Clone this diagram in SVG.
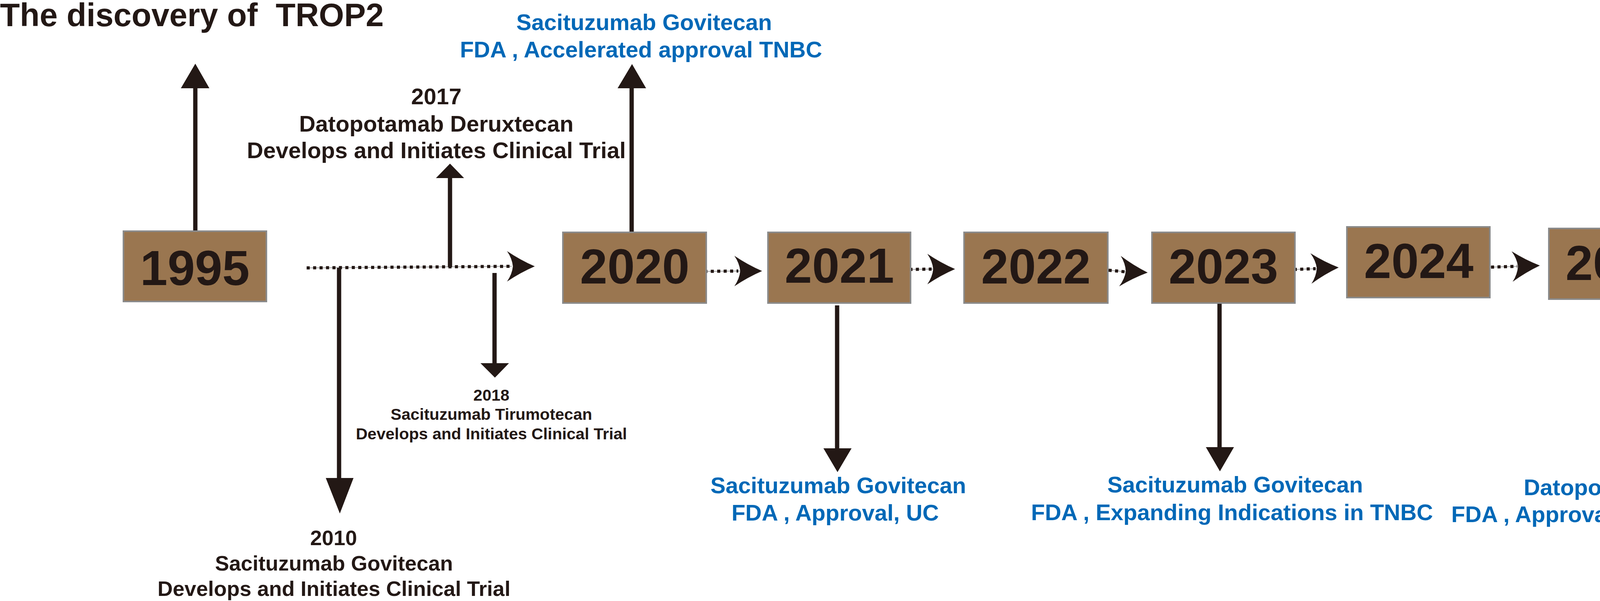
<svg xmlns="http://www.w3.org/2000/svg" xmlns:xlink="http://www.w3.org/1999/xlink" width="5028" height="1539" viewBox="0 0 5028 1539">
<style>
.box{fill:#9a7650;stroke:#8a8a8a;stroke-width:4}
.yr{font-family:"Liberation Sans",Arial,sans-serif;font-weight:bold;font-size:126px;fill:#231815;text-anchor:middle}
.blk{font-family:"Liberation Sans",Arial,sans-serif;font-weight:bold;fill:#231815;text-anchor:middle}
.blu{font-family:"Liberation Sans",Arial,sans-serif;font-weight:bold;font-size:58px;fill:#0068b7;text-anchor:middle}
.ttl{font-family:"Liberation Sans",Arial,sans-serif;font-weight:bold;font-size:83px;fill:#231815;white-space:pre}
.stem{stroke:#231815;stroke-width:11;fill:none}
.head{fill:#231815}
.dotbase{stroke:#8a8a8a;stroke-width:1.5;fill:none}
.dots{stroke:#231815;stroke-width:8;stroke-dasharray:8 8.5;fill:none}
</style>
<defs>
<path id="chev" d="M0,0 Q-37,-16 -71,-39 Q-58,-20 -56,0 Q-58,20 -71,39 Q-37,16 0,0 Z" fill="#231815"/>
</defs>
<rect width="5028" height="1539" fill="#ffffff"/>

<g id="title">
<text class="ttl" x="0" y="67">The discovery of  TROP2</text>
</g>

<g id="connectors">
<line class="dotbase" x1="785" y1="686" x2="1310" y2="682"/>
<line class="dots" x1="785" y1="686" x2="1305" y2="682"/>
<use xlink:href="#chev" transform="translate(1369,682)"/>
<line class="dotbase" x1="1803" y1="695" x2="1895" y2="694"/>
<line class="dots" x1="1803" y1="695" x2="1890" y2="694"/>
<use xlink:href="#chev" transform="translate(1951,694)"/>
<line class="dotbase" x1="2326" y1="690" x2="2390" y2="689"/>
<line class="dots" x1="2328" y1="690" x2="2385" y2="689"/>
<use xlink:href="#chev" transform="translate(2445,689)"/>
<line class="dotbase" x1="2838" y1="692" x2="2884" y2="696"/>
<line class="dots" x1="2838" y1="692" x2="2880" y2="696"/>
<use xlink:href="#chev" transform="translate(2938,698) rotate(3)"/>
<line class="dotbase" x1="3312" y1="690" x2="3372" y2="688"/>
<line class="dots" x1="3312" y1="690" x2="3368" y2="688"/>
<use xlink:href="#chev" transform="translate(3427,685) rotate(-2)"/>
<line class="dotbase" x1="3815" y1="684" x2="3888" y2="682"/>
<line class="dots" x1="3817" y1="684" x2="3884" y2="682"/>
<use xlink:href="#chev" transform="translate(3942,680) rotate(-2)"/>
<line class="dotbase" x1="4412" y1="665" x2="4659" y2="665"/>
<line class="dots" x1="4412" y1="665" x2="4659" y2="665"/>
<polygon class="head" points="4691,463 4691,849 5025,656"/>

<line class="stem" x1="500" y1="592" x2="500" y2="224"/>
<polygon class="head" points="463,226 536,226 500,163"/>
<line class="stem" x1="1152" y1="684" x2="1152" y2="454"/>
<polygon class="head" points="1116,456 1188,456 1152,419"/>
<line class="stem" x1="868" y1="686" x2="868" y2="1226"/>
<polygon class="head" points="834,1224 905,1224 870,1315"/>
<line class="stem" x1="1266" y1="699" x2="1266" y2="932"/>
<polygon class="head" points="1230,930 1303,930 1267,967"/>
<line class="stem" x1="1617" y1="595" x2="1617" y2="224"/>
<polygon class="head" points="1581,226 1654,226 1618,164"/>
<line class="stem" x1="2143" y1="782" x2="2143" y2="1150"/>
<polygon class="head" points="2108,1148 2180,1148 2144,1209"/>
<line class="stem" x1="3122" y1="776" x2="3122" y2="1147"/>
<polygon class="head" points="3087,1145 3159,1145 3123,1207"/>
<line class="stem" x1="4164" y1="771" x2="4164" y2="1140"/>
<polygon class="head" points="4129,1138 4201,1138 4165,1199"/>
</g>

<g id="node-1995">
<rect class="box" x="316" y="592" width="366" height="180"/>
<text class="yr" x="499" y="730">1995</text>
</g>
<g id="node-2020">
<rect class="box" x="1441" y="595" width="367" height="181"/>
<text class="yr" x="1625" y="726">2020</text>
</g>
<g id="node-2021">
<rect class="box" x="1966" y="595" width="365" height="181"/>
<text class="yr" x="2149" y="724">2021</text>
</g>
<g id="node-2022">
<rect class="box" x="2468" y="595" width="368" height="181"/>
<text class="yr" x="2652" y="726">2022</text>
</g>
<g id="node-2023">
<rect class="box" x="2949" y="595" width="366" height="181"/>
<text class="yr" x="3132" y="726">2023</text>
</g>
<g id="node-2024">
<rect class="box" x="3448" y="581" width="366" height="181"/>
<text class="yr" x="3632" y="712">2024</text>
</g>
<g id="node-2025">
<rect class="box" x="3965" y="585" width="366" height="181"/>
<text class="yr" x="4148" y="717">2025</text>
</g>

<g id="label-2017">
<text class="blk" font-size="58" x="1117" y="267">2017</text>
<text class="blk" font-size="58" x="1117" y="337">Datopotamab Deruxtecan</text>
<text class="blk" font-size="58" x="1117" y="405">Develops and Initiates Clinical Trial</text>
</g>
<g id="label-2018">
<text class="blk" font-size="41.5" x="1258" y="1026">2018</text>
<text class="blk" font-size="41.5" x="1258" y="1075">Sacituzumab Tirumotecan</text>
<text class="blk" font-size="41.5" x="1258" y="1125">Develops and Initiates Clinical Trial</text>
</g>
<g id="label-2010">
<text class="blk" font-size="54" x="854" y="1396">2010</text>
<text class="blk" font-size="54" x="855" y="1461">Sacituzumab Govitecan</text>
<text class="blk" font-size="54" x="855" y="1526">Develops and Initiates Clinical Trial</text>
</g>
<g id="label-2020">
<text class="blu" x="1649" y="77">Sacituzumab Govitecan</text>
<text class="blu" x="1641" y="147">FDA , Accelerated approval TNBC</text>
</g>
<g id="label-2021">
<text class="blu" x="2146" y="1263">Sacituzumab Govitecan</text>
<text class="blu" x="2138" y="1333">FDA , Approval, UC</text>
</g>
<g id="label-2023">
<text class="blu" x="3162" y="1261">Sacituzumab Govitecan</text>
<text class="blu" x="3154" y="1332">FDA , Expanding Indications in TNBC</text>
</g>
<g id="label-2025">
<text class="blu" x="4252" y="1268">Datopotamab Deruxtecan</text>
<text class="blu" x="4245" y="1337">FDA , Approval, Breast cancer, NSCLC</text>
</g>
</svg>
